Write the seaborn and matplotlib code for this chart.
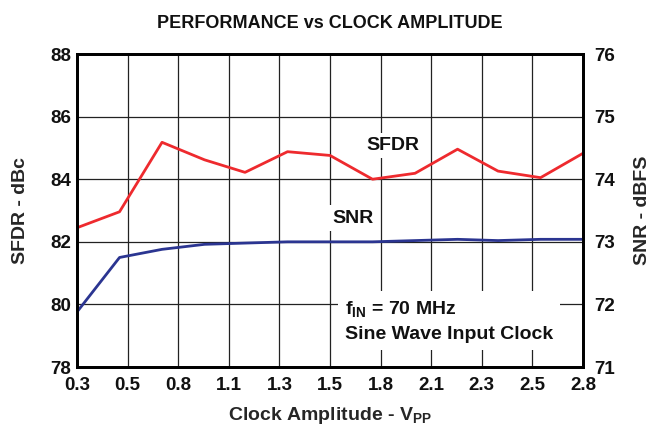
import numpy as np
import pandas as pd
import matplotlib
matplotlib.use("Agg")
import matplotlib.pyplot as plt
import seaborn as sns

# values
clock_vpp = [0.30, 0.51, 0.72, 0.93, 1.13, 1.34, 1.55, 1.76, 1.97, 2.18, 2.38, 2.59, 2.80]
sfdr_dbc = [82.45, 82.96, 85.18, 84.62, 84.22, 84.88, 84.76, 84.00, 84.19, 84.96, 84.26, 84.05, 84.83]
snr_dbfs = [71.88, 72.75, 72.88, 72.96, 72.98, 73.00, 73.00, 73.00, 73.02, 73.04, 73.02, 73.04, 73.04]

x_ticks = [0.3, 0.55, 0.8, 1.05, 1.3, 1.55, 1.8, 2.05, 2.3, 2.55, 2.8]
x_tick_labels = ["0.3", "0.5", "0.8", "1.1", "1.3", "1.5", "1.8", "2.1", "2.3", "2.5", "2.8"]
left_ticks = [78, 80, 82, 84, 86, 88]
right_ticks = [71, 72, 73, 74, 75, 76]

df = pd.DataFrame({"clock": clock_vpp, "sfdr": sfdr_dbc, "snr": snr_dbfs})

sns.set_style("white")
plt.rcParams["font.family"] = ["Liberation Sans", "DejaVu Sans"]
plt.rcParams["font.weight"] = "bold"
plt.rcParams["mathtext.fontset"] = "custom"
plt.rcParams["mathtext.rm"] = "Liberation Sans:bold"
plt.rcParams["mathtext.bf"] = "Liberation Sans:bold"
plt.rcParams["mathtext.default"] = "bf"
plt.rcParams["text.color"] = "#111111"

fig = plt.figure(figsize=(6.5, 4.29), dpi=100)
ax = fig.add_axes([0.1185, 0.1445, 0.7785, 0.7295])
ax2 = ax.twinx()

red = "#ee2a2e"
blue = "#2b3591"

sns.lineplot(data=df, x="clock", y="sfdr", ax=ax, color=red, lw=2)
sns.lineplot(data=df, x="clock", y="snr", ax=ax2, color=blue, lw=2)

ax.set_xlim(0.3, 2.8)
ax.set_ylim(78, 88)
ax2.set_ylim(71, 76)
ax.set_xticks(x_ticks)
ax.set_xticklabels(x_tick_labels)
ax.set_yticks(left_ticks)
ax2.set_yticks(right_ticks)

ax.grid(True, color="#222222", lw=0.9)
for a in (ax, ax2):
    a.tick_params(length=0, labelsize=13.5, labelcolor="#111111")
    for s in a.spines.values():
        s.set_color("black")
        s.set_linewidth(2)
ax.tick_params(axis="x", pad=7)
ax.tick_params(axis="y", pad=4)
ax2.tick_params(axis="y", pad=8)

ax.set_xlabel("Clock Amplitude - V$_{PP}$", fontsize=14, fontweight="bold")
ax.xaxis.set_label_coords(0.5, -0.12)
ax.set_ylabel("SFDR - dBc", fontsize=14, fontweight="bold")
ax.yaxis.set_label_coords(-0.095, 0.5)
ax2.set_ylabel("SNR - dBFS", fontsize=14, fontweight="bold")
ax2.yaxis.set_label_coords(1.101, 0.5)
ax.set_title("PERFORMANCE vs CLOCK AMPLITUDE", fontsize=13, fontweight="bold", pad=19)

box = dict(facecolor="white", edgecolor="none", pad=3)
ax2.text(0.625, 0.709, "SFDR", transform=ax.transAxes, ha="center", va="center",
         fontsize=14, fontweight="bold", bbox=box)
ax2.text(0.545, 0.476, "SNR", transform=ax.transAxes, ha="center", va="center",
         fontsize=14, fontweight="bold", bbox=box)
ax2.text(0.53, 0.147, "f$_{IN}$ = 70 MHz\nSine Wave Input Clock", transform=ax.transAxes,
         ha="left", va="center", fontsize=14, fontweight="bold", linespacing=1.5,
         bbox=dict(facecolor="white", edgecolor="none", pad=5))

fig.savefig("out.png", dpi=100)
